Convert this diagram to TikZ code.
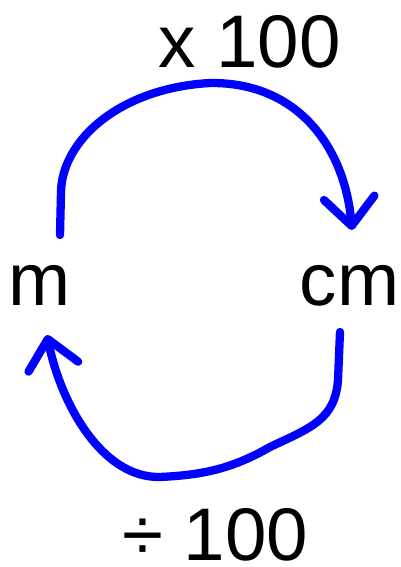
\documentclass[tikz,border=0pt]{standalone}
\usepackage{fontspec}
\setmainfont{Liberation Sans}
\usetikzlibrary{arrows.meta}
\begin{document}
\begin{tikzpicture}[x=0.025cm,y=-0.025cm,
		lbl/.style={inner sep=0pt,anchor=base,text depth=0pt,font=\fontsize{53}{60}\selectfont},
		turn/.style={blue,line width=5.9pt,line cap=round,line join=round,-{Straight Barb[length=20pt,width=36pt,round]}}]
			\useasboundingbox (0,0) rectangle (401,567);
			
			\node[lbl] (times) at (249.5,67) {x 100};
			\node[lbl] (m) at (40,305) {m};
			\node[lbl] (cm) at (349.5,305) {cm};
			\node[lbl] (divide) at (215,560) {÷ 100};
			
			\coordinate (mtop) at (60,235);
			\coordinate (cmtop) at (352,230);
			\coordinate (cmbot) at (340,332);
			\coordinate (mbot) at (47,335);
			
			\draw[turn] (mtop) -- (61,192) .. controls (62,140) and (120,88) .. (210,83) .. controls (300,82) and (345,150) .. (cmtop);
			\draw[turn] (cmbot) -- (338,380) .. controls (335,420) and (310,428) .. (270,447) .. controls (230,470) and (200,475) .. (160,477) .. controls (100,478) and (60,400) .. (mbot);
		\end{tikzpicture}
\end{document}
